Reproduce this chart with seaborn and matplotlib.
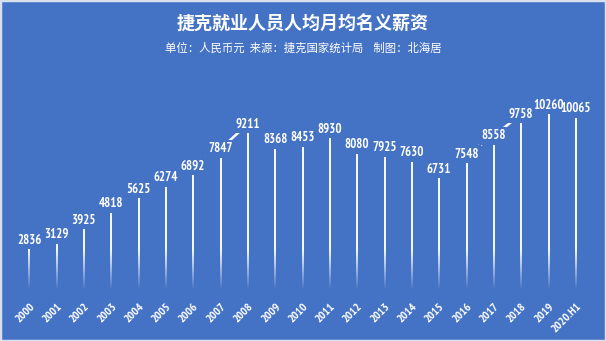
import numpy as np
import pandas as pd
import matplotlib
matplotlib.use("Agg")
import matplotlib.pyplot as plt
import seaborn as sns
from matplotlib.patches import Rectangle

years = ['2000', '2001', '2002', '2003', '2004', '2005', '2006', '2007', '2008', '2009',
         '2010', '2011', '2012', '2013', '2014', '2015', '2016', '2017', '2018', '2019', '2020.H1']
wages = [2836, 3129, 3925, 4818, 5625, 6274, 6892, 7847, 9211, 8368,
         8453, 8930, 8080, 7925, 7630, 6731, 7548, 8558, 9758, 10260, 10065]
title = '捷克就业人员人均月均名义薪资'
subtitle = '单位：人民币元  来源：捷克国家统计局    制图：北海居'

BG = '#4472C4'
sns.set_theme(style='white')
NARROW = ['PT Sans Narrow', 'Roboto Condensed', 'DejaVu Sans']
plt.rcParams['font.family'] = NARROW

df = pd.DataFrame({'year': years, 'wage': wages})

fig = plt.figure(figsize=(6.06, 3.41), dpi=100)
fig.patch.set_facecolor(BG)
ax = fig.add_axes([0.0165, 0.1214, 0.965, 0.6132])
ax.set_facecolor(BG)

sns.barplot(data=df, x='year', y='wage', color='white', width=0.06, ax=ax, saturation=1)

XL = (-0.7, 20.7)
YL = (0, 11500)

# gradient fill for bars (white fading out toward the bottom)
rgba = np.ones((256, 1, 4))
alpha = np.clip((np.linspace(YL[0], YL[1], 256) - 550) / 2200, 0, 1) * 0.95
rgba[:, 0, 3] = alpha
for p in ax.patches:
    p.set_facecolor('none')
    p.set_edgecolor('none')
    im = ax.imshow(rgba, extent=[XL[0], XL[1], YL[0], YL[1]], origin='lower',
                   aspect='auto', zorder=2)
    im.set_clip_path(p)
ax.set_xlim(*XL)
ax.set_ylim(*YL)

# connecting line through label positions (mostly hidden by label boxes)
off = 440
xs = np.arange(len(wages))
ax.plot(xs, np.array(wages) + off, color='white', lw=1.8, zorder=3)
for i, v in enumerate(wages):
    # background box only (hides the connector line)
    ax.text(i, v + off, str(v), ha='center', va='center', color=(1, 1, 1, 0),
            family=NARROW, fontweight='bold', fontsize=9.2, zorder=4,
            bbox=dict(boxstyle='square,pad=0.2', facecolor=BG, edgecolor='none'))
    # visible label above all boxes
    ax.text(i, v + off, str(v), ha='center', va='center', color='white',
            family=NARROW, fontweight='bold', fontsize=9.2, zorder=5)

for s in ax.spines.values():
    s.set_visible(False)
ax.set_xlabel('')
ax.set_ylabel('')
ax.set_yticks([])
ax.tick_params(axis='x', length=0, pad=1)
plt.setp(ax.get_xticklabels(), rotation=45, ha='right', rotation_mode='anchor',
         color='white', fontsize=8.5, fontweight='bold', family=NARROW)

cjk = ['Noto Sans CJK SC', 'DejaVu Sans']
fig.text(0.5, 0.928, title, ha='center', va='center', color='white', fontsize=13,
         fontweight='bold', family=cjk)
fig.text(0.5, 0.858, subtitle, ha='center', va='center', color='white', fontsize=8.2,
         family=cjk)

fig.add_artist(Rectangle((0, 0), 1, 1, transform=fig.transFigure, fill=False,
                         edgecolor='#d9e1ef', lw=2.5))

fig.savefig('out.png', dpi=100, facecolor=BG)
